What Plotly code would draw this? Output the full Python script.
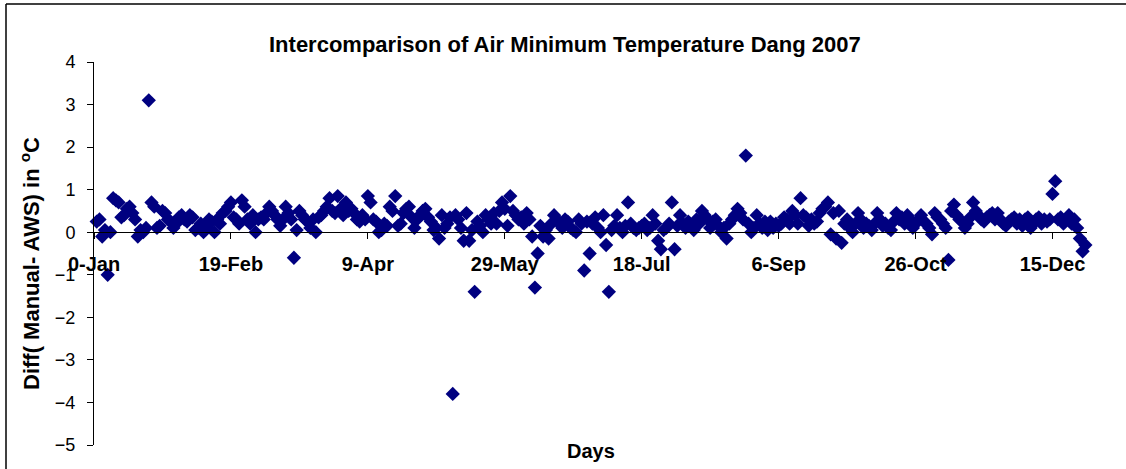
import plotly.graph_objects as go

# Daily difference (Manual - AWS) of air minimum temperature, Dang 2007
diff_c = [
    0.25, 0.3, -0.1, 0.05, -1.0, 0.0, 0.8, 0.75, 0.7, 0.35,
    0.4, 0.55, 0.6, 0.45, 0.3, -0.1, 0.05, 0.0, 0.1, 3.1,
    0.7, 0.6, 0.1, 0.15, 0.5, 0.45, 0.3, 0.25, 0.1, 0.2,
    0.35, 0.4, 0.3, 0.25, 0.4, 0.35, 0.05, 0.1, 0.2, 0.0,
    0.1, 0.3, 0.25, 0.0, 0.3, 0.2, 0.45, 0.5, 0.6, 0.7,
    0.35, 0.3, 0.2, 0.75, 0.6, 0.3, 0.2, 0.4, 0.0, 0.3,
    0.35, 0.3, 0.45, 0.6, 0.5, 0.4, 0.3, 0.15, 0.3, 0.6,
    0.45, 0.3, -0.6, 0.05, 0.5, 0.4, 0.3, 0.25, 0.1, 0.3,
    0.0, 0.35, 0.4, 0.5, 0.6, 0.8, 0.5, 0.45, 0.85, 0.55,
    0.4, 0.7, 0.5, 0.55, 0.45, 0.3, 0.25, 0.4, 0.3, 0.85,
    0.7, 0.3, 0.25, 0.0, 0.05, 0.2, 0.15, 0.6, 0.5, 0.85,
    0.15, 0.2, 0.45, 0.55, 0.6, 0.35, 0.1, 0.3, 0.4, 0.5,
    0.55, 0.35, 0.25, 0.05, 0.1, -0.15, 0.4, 0.1, 0.2, 0.35,
    -3.8, 0.4, 0.3, 0.1, -0.2, 0.45, -0.2, 0.05, -1.4, 0.25,
    0.15, 0.0, 0.4, 0.3, 0.2, 0.45, 0.2, 0.5, 0.7, 0.55,
    0.15, 0.85, 0.5, 0.4, 0.3, 0.35, 0.2, 0.45, 0.3, -0.1,
    -1.3, -0.5, 0.15, -0.1, 0.05, -0.15, 0.2, 0.4, 0.3, 0.2,
    0.1, 0.3, 0.25, 0.1, 0.05, 0.0, 0.3, 0.2, -0.9, 0.25,
    -0.5, 0.2, 0.35, 0.1, 0.0, 0.4, -0.3, -1.4, 0.05, 0.15,
    0.4, 0.1, 0.0, 0.15, 0.7, 0.2, 0.1, 0.05, 0.1, 0.15,
    0.2, 0.05, 0.1, 0.4, 0.2, -0.2, -0.4, 0.05, 0.1, 0.2,
    0.7, -0.4, 0.15, 0.4, 0.2, 0.1, 0.25, 0.15, 0.05, 0.3,
    0.2, 0.5, 0.4, 0.3, 0.1, 0.25, 0.3, 0.15, 0.0, 0.1,
    -0.15, 0.2, 0.3, 0.4, 0.55, 0.45, 0.3, 1.8, 0.2, 0.0,
    0.1, 0.4, 0.2, 0.1, 0.25, 0.05, 0.25, 0.1, 0.2, 0.15,
    0.2, 0.35, 0.3, 0.2, 0.5, 0.4, 0.2, 0.8, 0.4, 0.35,
    0.15, 0.3, 0.2, 0.25, 0.45, 0.55, 0.6, 0.7, -0.05, 0.45,
    -0.15, 0.5, -0.25, 0.2, 0.3, 0.1, 0.0, 0.2, 0.45, 0.3,
    0.1, 0.2, 0.15, 0.05, 0.2, 0.45, 0.3, 0.15, 0.2, 0.1,
    0.05, 0.25, 0.45, 0.3, 0.35, 0.2, 0.4, 0.3, 0.1, 0.2,
    0.3, 0.4, 0.25, 0.2, 0.1, -0.05, 0.45, 0.35, 0.3, 0.2,
    0.1, -0.65, 0.5, 0.65, 0.4, 0.3, 0.25, 0.1, 0.2, 0.35,
    0.7, 0.5, 0.4, 0.3, 0.25, 0.35, 0.4, 0.45, 0.3, 0.45,
    0.3, 0.2, 0.15, 0.25, 0.3, 0.35, 0.2, 0.3, 0.15, 0.3,
    0.35, 0.1, 0.2, 0.3, 0.35, 0.2, 0.3, 0.25, 0.3, 0.9,
    1.2, 0.3, 0.35, 0.2, 0.3, 0.4, 0.2, 0.3, 0.1, -0.15,
    -0.45, -0.3, -0.5, 0.1, -0.2,
]
day_of_year = list(range(1, len(diff_c) + 1))

# Date-axis ticks (day serials 0..350, every 50 days)
tick_days = [0, 50, 100, 150, 200, 250, 300, 350]
tick_labels = ["0-Jan", "19-Feb", "9-Apr", "29-May", "18-Jul", "6-Sep", "26-Oct", "15-Dec"]

W, H = 1126, 469
L, R, T, B = 94, 39, 62, 24
PW, PH = W - L - R, H - T - B


def px_x(px):
    return (px - L) / PW


def px_y(py):
    return (H - B - py) / PH


FONT = "Liberation Sans, Arial, sans-serif"
NAVY = "#000080"

fig = go.Figure(
    go.Scatter(
        x=day_of_year,
        y=diff_c,
        mode="markers",
        marker=dict(symbol="diamond", size=11, color=NAVY, line=dict(width=0)),
        cliponaxis=False,
        hoverinfo="x+y",
    )
)

fig.update_layout(
    width=W,
    height=H,
    margin=dict(l=L, r=R, t=T, b=B, pad=0),
    paper_bgcolor="white",
    plot_bgcolor="white",
    showlegend=False,
    xaxis=dict(
        range=[0, 362.6],
        anchor="free",
        position=5 / 9,
        tickvals=tick_days,
        ticktext=tick_labels,
        ticks="outside",
        ticklen=6,
        tickwidth=1,
        tickcolor="#000000",
        showline=True,
        linecolor="#000000",
        linewidth=1,
        showgrid=False,
        zeroline=False,
        ticklabelstandoff=8,
        tickfont=dict(family=FONT, size=20, color="#000000", weight="bold"),
    ),
    yaxis=dict(
        range=[-5, 4],
        tick0=0,
        dtick=1,
        ticks="outside",
        ticklen=6,
        tickwidth=1,
        tickcolor="#000000",
        showline=True,
        linecolor="#000000",
        linewidth=1,
        showgrid=False,
        zeroline=False,
        ticklabelstandoff=8,
        tickfont=dict(family=FONT, size=18, color="#000000"),
    ),
    shapes=[
        # chart-area frame (left and top edges)
        dict(type="line", xref="paper", yref="paper",
             x0=px_x(6), x1=px_x(6), y0=px_y(H + 2), y1=px_y(4),
             line=dict(color="#000000", width=1.5)),
        dict(type="line", xref="paper", yref="paper",
             x0=px_x(6), x1=px_x(W + 2), y0=px_y(4), y1=px_y(4),
             line=dict(color="#000000", width=1.5)),
    ],
    annotations=[
        dict(text="<b>Intercomparison of Air Minimum Temperature Dang 2007</b>",
             xref="paper", yref="paper", x=px_x(565), y=px_y(44),
             xanchor="center", yanchor="middle", showarrow=False,
             font=dict(family=FONT, size=22, color="#000000")),
        dict(text="<b>Diff( Manual- AWS) in <sup>o</sup>C</b>",
             xref="paper", yref="paper", x=px_x(30), y=px_y(264),
             xanchor="center", yanchor="middle", textangle=-90, showarrow=False,
             font=dict(family=FONT, size=22, color="#000000")),
        dict(text="<b>Days</b>",
             xref="paper", yref="paper", x=px_x(591), y=px_y(451),
             xanchor="center", yanchor="middle", showarrow=False,
             font=dict(family=FONT, size=20, color="#000000")),
    ],
)

fig.write_html("out.html")
